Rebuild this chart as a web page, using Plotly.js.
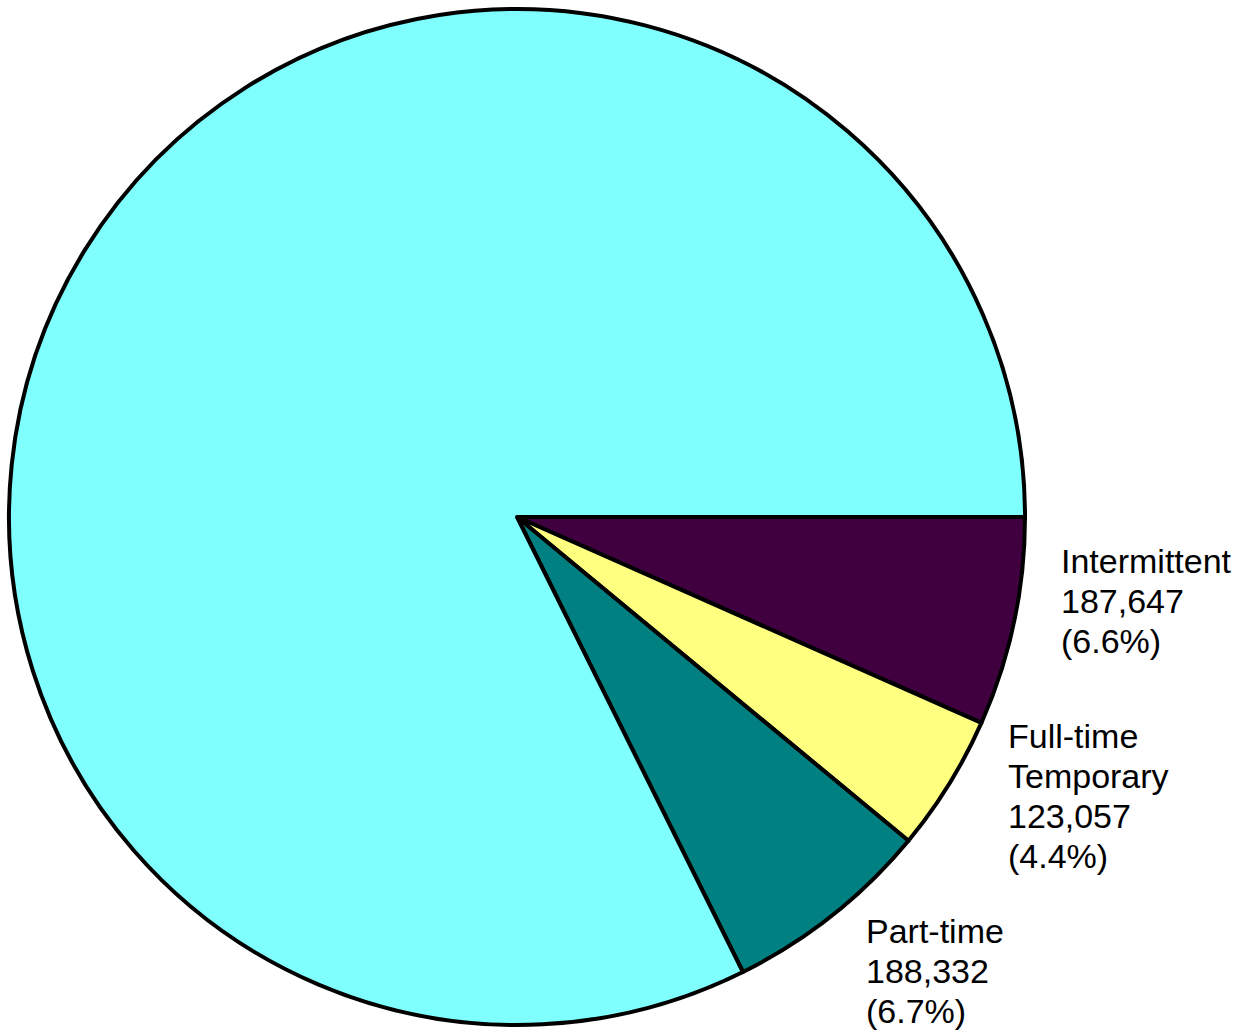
<!DOCTYPE html>
<html>
<head>
<meta charset="utf-8">
<script src="https://cdn.plot.ly/plotly-3.0.1.min.js"></script>
<style>html,body{margin:0;padding:0;background:#fff;}#chart{width:1241px;height:1031px;}</style>
</head>
<body>
<div id="chart"></div>
<script>
const categories = ["Intermittent", "Full-time Temporary", "Part-time", "Full-time Permanent"];
const labelLines = [["Intermittent"], ["Full-time", "Temporary"], ["Part-time"], []];
const values = [187647, 123057, 188332, 2326000];
const shownPct = ["6.6%", "4.4%", "6.7%", ""];
const colors = ["#400040", "#FFFF80", "#008080", "#80FFFF"];

const W = 1241, H = 1031;
// label anchor positions (pixels): left x, centre y of first line
const labelPos = [[1059, 561], [1006, 736], [864, 931]];
const lineGap = 40;

const fmt = v => v.toLocaleString("en-US");
const annotations = [];
for (let i = 0; i < 3; i++) {
  const lines = labelLines[i].concat([fmt(values[i]), "(" + shownPct[i] + ")"]);
  lines.forEach((t, k) => {
    annotations.push({
      text: t, showarrow: false, xref: "paper", yref: "paper",
      x: labelPos[i][0] / W, y: 1 - (labelPos[i][1] + k * lineGap) / H,
      xanchor: "left", yanchor: "middle", align: "left",
      font: {family: "Liberation Sans, Arial, sans-serif", size: 34, color: "#000"}
    });
  });
}

const trace = {
  type: "pie",
  labels: categories,
  values: values,
  sort: false,
  direction: "clockwise",
  rotation: 90,
  textinfo: "none",
  hoverinfo: "label+value+percent",
  marker: {colors: colors, line: {color: "#000", width: 4}},
  domain: {x: [9 / W, 1025 / W], y: [1 - 1025 / H, 1 - 9 / H]}
};

Plotly.newPlot("chart", [trace], {
  width: W, height: H,
  margin: {l: 0, r: 0, t: 0, b: 0},
  showlegend: false,
  paper_bgcolor: "#fff",
  annotations: annotations
}, {displayModeBar: false, staticPlot: true});
</script>
</body>
</html>
